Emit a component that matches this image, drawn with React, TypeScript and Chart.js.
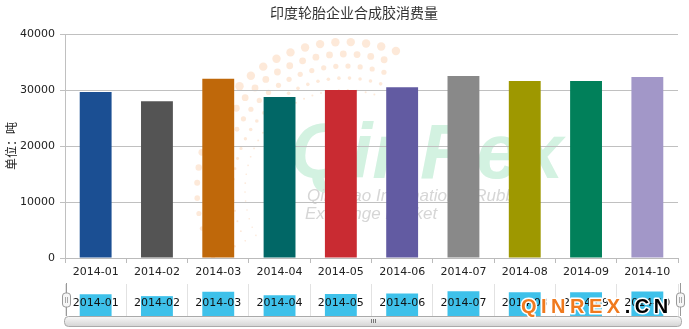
import React, { useEffect, useRef } from 'react';
import { Chart, registerables } from 'chart.js';

Chart.register(...registerables);

const chartTitle = '印度轮胎企业合成胶消费量';
const yAxisTitle = '单位：吨';
const categories = ['2014-01', '2014-02', '2014-03', '2014-04', '2014-05', '2014-06', '2014-07', '2014-08', '2014-09', '2014-10'];
const consumption = [29650, 28000, 32000, 28750, 30000, 30500, 32500, 31600, 31600, 32300];
const barColors = ['#1B4F93', '#545454', '#BF680A', '#016766', '#C92B32', '#625BA2', '#898989', '#9E9800', '#01805A', '#A297C8'];
const yTicks = [0, 10000, 20000, 30000, 40000];
const navigatorColor = '#3EC1EA';

const W = 689;
const H = 329;
const NAV_TOP = 280;
const NAV_H = 49;
const tickFont = { family: '"DejaVu Sans", Verdana, sans-serif', size: 11 };

const backgroundPlugin = {
  id: 'bgMark',
  beforeDraw(chart: any) {
    const ctx = chart.ctx;
    ctx.save();
    // peach dot ring
    const cx = 345, cy = 190;
    ctx.fillStyle = 'rgba(252, 212, 180, 0.5)';
    for (let i = 0; i < 5; i++) {
      const r = 100 + i * 12;
      const size = 1.0 + i * 0.8;
      const step = (size * 2 + 7) / r;
      for (let a = 0.85 * Math.PI; a <= 1.62 * Math.PI; a += step) {
        const fade = Math.min(1, (a - 0.85 * Math.PI) / (0.35 * Math.PI));
        ctx.beginPath();
        ctx.arc(cx + r * Math.cos(a), cy + r * Math.sin(a), Math.max(0.8, size * (0.45 + 0.55 * fade)), 0, Math.PI * 2);
        ctx.fill();
      }
    }
    ctx.fillStyle = '#D3F2E1';
    ctx.font = 'italic bold 78px "Liberation Sans", Arial, sans-serif';
    ctx.textAlign = 'left';
    ctx.textBaseline = 'alphabetic';
    ctx.fillText('QinRex', 290, 178);
    ctx.fillStyle = '#D6D6D6';
    ctx.font = 'italic 17px "Liberation Sans", Arial, sans-serif';
    ctx.fillText('Qingdao International Rubber', 307, 201);
    ctx.fillText('Exchange Market', 305, 219);
    ctx.restore();
  },
  afterDraw(chart: any) {
    const ctx = chart.ctx;
    ctx.save();
    ctx.fillStyle = '#333333';
    ctx.font = '14px "Noto Sans CJK SC", sans-serif';
    ctx.textAlign = 'center';
    ctx.textBaseline = 'middle';
    ctx.fillText(chartTitle, 354, 13);
    ctx.restore();
  },
};

const navigatorPlugin = {
  id: 'navDecor',
  afterDatasetsDraw(chart: any) {
    const ctx = chart.ctx;
    const meta = chart.getDatasetMeta(0);
    ctx.save();
    ctx.fillStyle = '#111111';
    ctx.font = '11px "DejaVu Sans", Verdana, sans-serif';
    ctx.textAlign = 'center';
    ctx.textBaseline = 'middle';
    meta.data.forEach((el: any, i: number) => {
      ctx.fillText(categories[i], el.x, 23);
    });
    ctx.restore();
  },
  afterDraw(chart: any) {
    const ctx = chart.ctx;
    const { left, right, bottom } = chart.chartArea;
    ctx.save();
    // scrollbar
    const sx = left - 1, sw = right + 3 - sx, sy = bottom, sh = 10;
    const g = ctx.createLinearGradient(0, sy, 0, sy + sh);
    g.addColorStop(0, '#FAFAFA');
    g.addColorStop(1, '#D6D6D6');
    ctx.fillStyle = g;
    ctx.strokeStyle = '#AAAAAA';
    ctx.lineWidth = 1;
    ctx.beginPath();
    ctx.roundRect(sx + 0.5, sy + 0.5, sw, sh, 4);
    ctx.fill();
    ctx.stroke();
    ctx.strokeStyle = '#777777';
    const gx = Math.round((sx + sx + sw) / 2);
    for (let k = -2; k <= 2; k += 2) {
      ctx.beginPath();
      ctx.moveTo(gx + k + 0.5, sy + 3);
      ctx.lineTo(gx + k + 0.5, sy + 7);
      ctx.stroke();
    }
    // handles
    const handles = [left + 0.5, right + 1.5];
    handles.forEach((hx) => {
      const x = Math.round(hx) + 0.5;
      ctx.strokeStyle = '#999999';
      ctx.beginPath();
      ctx.moveTo(x, 3);
      ctx.lineTo(x, bottom);
      ctx.stroke();
      ctx.fillStyle = '#F6F6F6';
      ctx.beginPath();
      ctx.roundRect(x - 4, 13, 8, 14, 3);
      ctx.fill();
      ctx.stroke();
      ctx.strokeStyle = '#AAAAAA';
      ctx.beginPath();
      ctx.moveTo(x - 1, 17);
      ctx.lineTo(x - 1, 23);
      ctx.moveTo(x + 1, 17);
      ctx.lineTo(x + 1, 23);
      ctx.stroke();
    });
    // QINREX.CN watermark
    ctx.font = 'bold 20px "Liberation Sans", Arial, sans-serif';
    ctx.textAlign = 'left';
    ctx.textBaseline = 'middle';
    ctx.lineJoin = 'round';
    ctx.lineWidth = 3;
    ctx.strokeStyle = '#FFFFFF';
    let px = 521;
    const parts: [string, string][] = [['QINREX', '#F07A1E'], ['.CN', '#000000']];
    parts.forEach(([txt, col]) => {
      for (const ch of txt) {
        ctx.strokeText(ch, px, 27);
        ctx.fillStyle = col;
        ctx.fillText(ch, px, 27);
        px += ctx.measureText(ch).width + 4.5;
      }
    });
    ctx.restore();
  },
};

export default function App() {
  const mainRef = useRef<HTMLCanvasElement>(null);
  const navRef = useRef<HTMLCanvasElement>(null);

  useEffect(() => {
    const main = new Chart(mainRef.current as HTMLCanvasElement, {
      type: 'bar',
      data: {
        labels: categories,
        datasets: [{
          data: consumption,
          backgroundColor: barColors,
          borderWidth: 0,
          barPercentage: 0.52,
          categoryPercentage: 1,
        }],
      },
      options: {
        responsive: false,
        animation: false,
        devicePixelRatio: 1,
        layout: { padding: { left: 0, right: 11, top: 34, bottom: 41 } },
        plugins: {
          legend: { display: false },
          tooltip: { enabled: false },
          title: { display: false },
        },
        scales: {
          x: {
            grid: { display: true, drawOnChartArea: false, drawTicks: true, tickLength: 5, color: '#BBBBBB', offset: true },
            border: { color: '#BBBBBB' },
            ticks: { color: '#222222', font: tickFont, padding: 3, maxRotation: 0, autoSkip: false },
            afterFit: (s: any) => { s.height = 30; },
          },
          y: {
            min: 0,
            max: 40000,
            afterBuildTicks: (s: any) => { s.ticks = yTicks.map((v) => ({ value: v })); },
            grid: { color: '#C0C0C0', tickLength: 5 },
            border: { color: '#C0C0C0' },
            ticks: { color: '#222222', font: tickFont, padding: 5, callback: (v: any) => String(v) },
            title: {
              display: true,
              text: yAxisTitle,
              color: '#222222',
              font: { family: '"Noto Sans CJK SC", sans-serif', size: 12 },
              padding: { top: 4, bottom: 0 },
            },
            afterFit: (s: any) => { s.width = 65; },
          },
        },
      },
      plugins: [backgroundPlugin],
    } as any);

    const nav = new Chart(navRef.current as HTMLCanvasElement, {
      type: 'bar',
      data: {
        labels: categories,
        datasets: [{
          data: consumption,
          backgroundColor: navigatorColor,
          borderWidth: 0,
          barPercentage: 0.52,
          categoryPercentage: 1,
        }],
      },
      options: {
        responsive: false,
        animation: false,
        devicePixelRatio: 1,
        layout: { padding: { left: 65, right: 11, top: 4, bottom: 13 } },
        plugins: {
          legend: { display: false },
          tooltip: { enabled: false },
          title: { display: false },
        },
        scales: {
          x: {
            display: true,
            grid: { display: true, drawOnChartArea: true, drawTicks: false, color: '#E2E2E2', offset: true },
            border: { display: false },
            ticks: { display: false },
            afterFit: (s: any) => { s.height = 0; },
          },
          y: { display: false, min: 10000, max: 39000 },
        },
      },
      plugins: [navigatorPlugin],
    } as any);

    return () => {
      main.destroy();
      nav.destroy();
    };
  }, []);

  return (
    <div style={{ position: 'fixed', left: 0, top: 0, width: W, height: H, background: '#FFFFFF' }}>
      <canvas ref={mainRef} width={W} height={H} style={{ position: 'absolute', left: 0, top: 0, width: W, height: H }} />
      <canvas ref={navRef} width={W} height={NAV_H} style={{ position: 'absolute', left: 0, top: NAV_TOP, width: W, height: NAV_H }} />
    </div>
  );
}
